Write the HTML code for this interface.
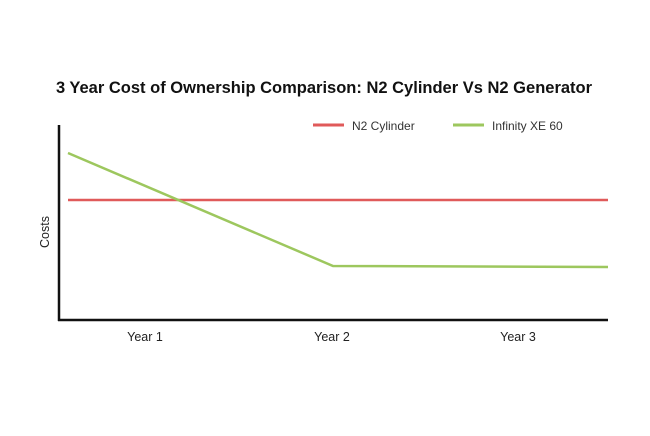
<!DOCTYPE html>
<html><head><style>body{margin:0;background:#fff}</style></head><body>
<svg width="650" height="431" xmlns="http://www.w3.org/2000/svg" font-family="Liberation Sans, sans-serif">
<rect width="650" height="431" fill="#fff"/>
<text x="324" y="93" text-anchor="middle" font-size="16.5" font-weight="bold" fill="#111">3 Year Cost of Ownership Comparison: N2 Cylinder Vs N2 Generator</text>
<line x1="313" y1="125" x2="344" y2="125" stroke="#e05a5a" stroke-width="3"/>
<text x="352" y="130" font-size="12" fill="#333">N2 Cylinder</text>
<line x1="453" y1="125" x2="484" y2="125" stroke="#9dc75e" stroke-width="3"/>
<text x="492" y="130" font-size="12" fill="#333">Infinity XE 60</text>
<line x1="68" y1="200" x2="608" y2="200" stroke="#e05a5a" stroke-width="2.5"/>
<polyline points="68,153 333,266 608,267" fill="none" stroke="#9dc75e" stroke-width="2.5"/>
<line x1="59" y1="125" x2="59" y2="321" stroke="#111" stroke-width="2.5"/>
<line x1="58" y1="320" x2="608" y2="320" stroke="#111" stroke-width="2.5"/>
<text x="145" y="341" text-anchor="middle" font-size="12.5" fill="#222">Year 1</text>
<text x="332" y="341" text-anchor="middle" font-size="12.5" fill="#222">Year 2</text>
<text x="518" y="341" text-anchor="middle" font-size="12.5" fill="#222">Year 3</text>
<text transform="translate(49,232) rotate(-90)" text-anchor="middle" font-size="12.5" fill="#222">Costs</text>
</svg>
</body></html>
